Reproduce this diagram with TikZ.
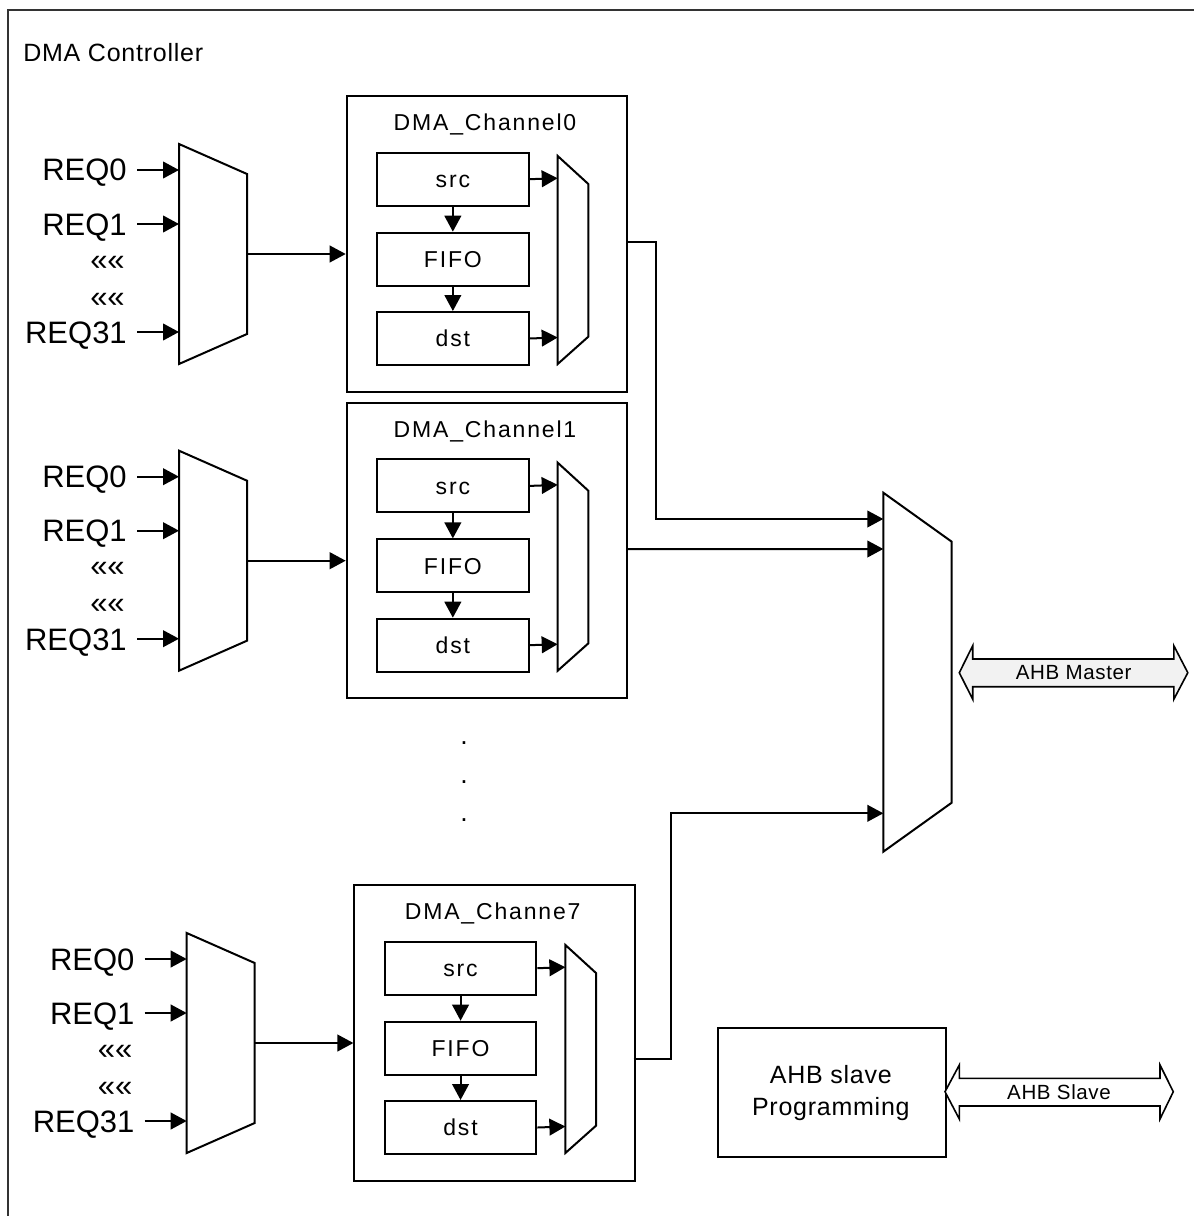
\documentclass[tikz,border=0pt]{standalone}
\usepackage{fontspec}
\setmainfont{Liberation Sans}
\newfontfamily\lsA[LetterSpace=8]{Liberation Sans}
\newfontfamily\lsB[LetterSpace=3]{Liberation Sans}
\usetikzlibrary{arrows.meta}
\definecolor{lgray}{HTML}{F2F2F2}
\tikzset{
  sz/.style 2 args={minimum width=#1*0.75pt, minimum height=#2*0.75pt},
  ln/.style={line width=1.5pt, line join=miter},
  blk/.style={draw, ln, rectangle, inner sep=0pt, anchor=north west},
  ibox/.style={blk, font=\lsA\fontsize{17.25pt}{20pt}\selectfont, text height=12.35pt, text depth=0pt},
  arr/.style={ln, -{Triangle[length=12pt,width=12.5pt]}},
  req/.style={font=\fontsize{23.25pt}{27pt}\selectfont, inner sep=0pt, anchor=base east},
  ttl/.style={font=\lsA\fontsize{17.25pt}{20pt}\selectfont, inner sep=0pt, anchor=base},
  mux/.style={draw, ln, fill=white},
  bus/.style={draw, line width=1.2pt, line join=miter},
  bustxt/.style={font=\lsB\fontsize{15.4pt}{18pt}\selectfont, inner sep=0pt},
  bigtxt/.style={font=\lsB\fontsize{18.75pt}{22pt}\selectfont, inner sep=0pt},
  dottxt/.style={font=\fontsize{20pt}{24pt}\selectfont, inner sep=0pt},
}
\newcommand\dmachannel[5]{%
\begin{scope}[shift={(#2,#3)}]
  \draw[mux] (179,144) -- (247,174) -- (247,334) -- (179,364) -- cycle;
  \coordinate (#1ia) at (179,170);
  \coordinate (#1ib) at (179,224);
  \coordinate (#1ic) at (179,332);
  \coordinate (#1io) at (247,254);
  \coordinate (#1sa) at (137,170);
  \coordinate (#1sb) at (137,224);
  \coordinate (#1sc) at (137,332);
  \node[req] (#1ra) at (127,181) {REQ0};
  \node[req] (#1rb) at (127,235) {REQ1};
  \node[req] (#1da) at (125,270) {««};
  \node[req] (#1db) at (125,307) {««};
  \node[req] (#1rc) at (127,343.5) {REQ31};
  \draw[arr] (#1sa) -- (#1ia);
  \draw[arr] (#1sb) -- (#1ib);
  \draw[arr] (#1sc) -- (#1ic);
  \node[blk, sz={280.3}{295.7}] (#1box) at (345.7,95) {};
  \node[ttl] (#1ttl) at (485,130.5) {#4};
  \node[ibox, sz={151.7}{53}] (#1src) at (376,151.7) {src};
  \node[ibox, sz={151.7}{53}] (#1fifo) at (376,231.7) {FIFO};
  \node[ibox, sz={151.7}{53}] (#1dst) at (376,311) {dst};
  \draw[mux] (557.7,156) -- (588.3,184) -- (588.3,336.7) -- (557.7,364) -- cycle;
  \coordinate (#1ma) at (557.7,178.2);
  \coordinate (#1mb) at (557.7,337.5);
  \draw[arr] (#1io) -- (#1io -| #1box.west);
  \draw[arr] (#1src.south) -- (#1fifo.north);
  \draw[arr] (#1fifo.south) -- (#1dst.north);
  \draw[arr] (#1src.east) -- (#1ma);
  \draw[arr] (#1dst.east) -- (#1mb);
  \coordinate (#1out) at (626,#5);
\end{scope}}
\begin{document}
\begin{tikzpicture}[x=0.75pt,y=-0.75pt]
\useasboundingbox (0,0) rectangle (1194,1216);
\draw[line width=1.5pt, black!80] (8,1216) -- (8,10) -- (1194,10);
\node[bigtxt, anchor=base west] (dmac) at (23,62) {DMA Controller};
\dmachannel{a}{0}{0}{DMA\_Channel0}{242.3}
\dmachannel{b}{0}{306.7}{DMA\_Channel1}{242.3}
\dmachannel{c}{7.7}{789}{DMA\_Channe7}{270.3}
% dots
\node[dottxt] (dot1) at (464,742.7) {.};
\node[dottxt] (dot2) at (464,781.7) {.};
\node[dottxt] (dot3) at (464,819.7) {.};
% main mux
\draw[mux] (883.3,492.7) -- (951.7,541.7) -- (951.7,802.7) -- (883.3,851.7) -- cycle;
\coordinate (mm1) at (883.3,519);
\coordinate (mm2) at (883.3,549);
\coordinate (mm3) at (883.3,813.3);
\draw[arr] (aout) -- ++(29.5,0) |- (mm1);
\draw[arr] (bout) -- (mm2);
\draw[arr] (cout) -- ++(37.3,0) |- (mm3);
% AHB master bus
\draw[bus, fill=lgray] (959.3,672.7) -- (972.7,645.7) -- (972.7,659) -- (1173.8,659) -- (1173.8,645.7)
  -- (1187.8,672.7) -- (1173.8,699.3) -- (1173.8,686.7) -- (972.7,686.7) -- (972.7,699.3) -- cycle;
\node[bustxt] (ahbm) at (1073.7,673) {AHB Master};
% AHB slave
\node[blk, sz={228.3}{128.7}] (slave) at (716.7,1027.3) {};
\node[bigtxt, anchor=base] (slt1) at (830.8,1083.3) {AHB slave};
\node[bigtxt, anchor=base] (slt2) at (830.8,1115) {Programming};
\draw[bus, fill=white] (945,1091.7) -- (959.3,1065) -- (959.3,1078.3) -- (1160,1078.3) -- (1160,1065)
  -- (1173.3,1091.7) -- (1160,1119) -- (1160,1106) -- (959.3,1106) -- (959.3,1119) -- cycle;
\node[bustxt] (ahbs) at (1059,1092) {AHB Slave};
\end{tikzpicture}
\end{document}
